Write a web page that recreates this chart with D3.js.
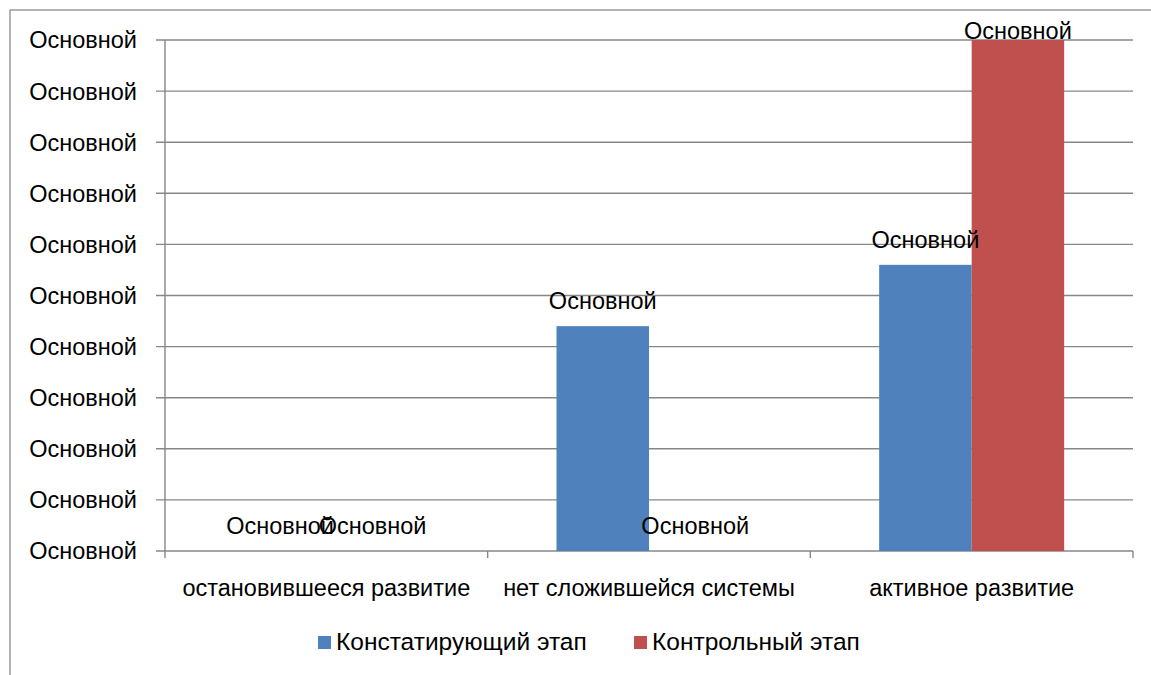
<!DOCTYPE html>
<html lang="ru">
<head>
  <meta charset="UTF-8">
  <title>Этапы</title>
  <script src="https://d3js.org/d3.v7.min.js"></script>
  <style>
    body { margin: 0; background: #fff; }
    text { font-family: "Liberation Sans", Arial, sans-serif; fill: #000; font-size: 23.5px; }
    .legend text { font-size: 24.5px; }
    .grid line { stroke: #878787; stroke-width: 1.4px; }
    .frame { fill: none; stroke: #8c8c8c; stroke-width: 1.3px; }
  </style>
</head>
<body>
<script>
  // chart data
  const categories = ["остановившееся развитие", "нет сложившейся системы", "активное развитие"];
  const seriesNames = ["Констатирующий этап", "Контрольный этап"];
  const seriesColors = ["#4F81BD", "#C0504D"];
  const constValues = [0, 44, 56];
  const controlValues = [0, 0, 100];
  const yTicks = [0, 10, 20, 30, 40, 50, 60, 70, 80, 90, 100];
  const tickLabel = "Основной";

  const width = 1151, height = 675;
  const margin = {top: 40, right: 18, bottom: 124, left: 165};

  const svg = d3.select("body").append("svg")
    .attr("width", width)
    .attr("height", height);

  // outer chart frame
  svg.append("rect")
    .attr("class", "frame")
    .attr("x", 10).attr("y", 10)
    .attr("width", width + 20).attr("height", height + 20);

  const x0 = d3.scaleBand()
    .domain(categories)
    .range([margin.left, width - margin.right])
    .paddingInner(0).paddingOuter(0);

  const x1 = d3.scaleBand()
    .domain(seriesNames)
    .range([0, x0.bandwidth()])
    .paddingInner(0)
    .paddingOuter(0.744);

  const y = d3.scaleLinear()
    .domain([0, 100])
    .range([height - margin.bottom, margin.top]);

  // gridlines
  svg.append("g").attr("class", "grid")
    .selectAll("line")
    .data(yTicks)
    .join("line")
    .attr("x1", margin.left - 9)
    .attr("x2", width - margin.right)
    .attr("y1", d => y(d))
    .attr("y2", d => y(d));

  // y labels
  svg.append("g")
    .selectAll("text")
    .data(yTicks)
    .join("text")
    .attr("x", 137)
    .attr("y", d => y(d))
    .attr("dy", "0.36em")
    .attr("text-anchor", "end")
    .text(tickLabel);

  // axis lines
  const axisColor = "#878787";
  svg.append("line")
    .attr("x1", margin.left).attr("x2", margin.left)
    .attr("y1", margin.top).attr("y2", y(0) + 7)
    .attr("stroke", axisColor).attr("stroke-width", 1.4);

  const bounds = categories.map(c => x0(c)).concat([x0(categories[2]) + x0.bandwidth()]);
  svg.append("g")
    .selectAll("line")
    .data(bounds.slice(1))
    .join("line")
    .attr("x1", d => d).attr("x2", d => d)
    .attr("y1", y(0)).attr("y2", y(0) + 7)
    .attr("stroke", axisColor).attr("stroke-width", 1.4);

  // bars
  const rows = categories.map((c, i) => ({
    cat: c,
    vals: [constValues[i], controlValues[i]]
  }));

  const groups = svg.append("g")
    .selectAll("g")
    .data(rows)
    .join("g")
    .attr("transform", d => `translate(${x0(d.cat)},0)`);

  groups.selectAll("rect")
    .data(d => d.vals.map((v, j) => ({name: seriesNames[j], v, j})))
    .join("rect")
    .attr("x", d => x1(d.name))
    .attr("width", x1.bandwidth())
    .attr("y", d => y(d.v))
    .attr("height", d => y(0) - y(d.v))
    .attr("fill", d => seriesColors[d.j]);

  // value labels, kept inside the plot top like Excel does
  groups.selectAll("text")
    .data(d => d.vals.map((v, j) => ({name: seriesNames[j], v, j})))
    .join("text")
    .attr("x", d => x1(d.name) + x1.bandwidth() / 2)
    .attr("y", d => Math.max(y(d.v) - 17, margin.top - 1))
    .attr("text-anchor", "middle")
    .text(tickLabel);

  // category labels
  svg.append("g")
    .selectAll("text")
    .data(categories)
    .join("text")
    .attr("x", d => x0(d) + x0.bandwidth() / 2)
    .attr("y", 596)
    .attr("text-anchor", "middle")
    .text(d => d);

  // legend
  const legendX = [318, 634];
  const legend = svg.append("g").attr("class", "legend")
    .selectAll("g")
    .data(seriesNames)
    .join("g")
    .attr("transform", (d, i) => `translate(${legendX[i]},636)`);

  legend.append("rect")
    .attr("width", 13).attr("height", 13)
    .attr("fill", (d, i) => seriesColors[i]);

  legend.append("text")
    .attr("x", 18).attr("y", 14)
    .text(d => d);
</script>
</body>
</html>
